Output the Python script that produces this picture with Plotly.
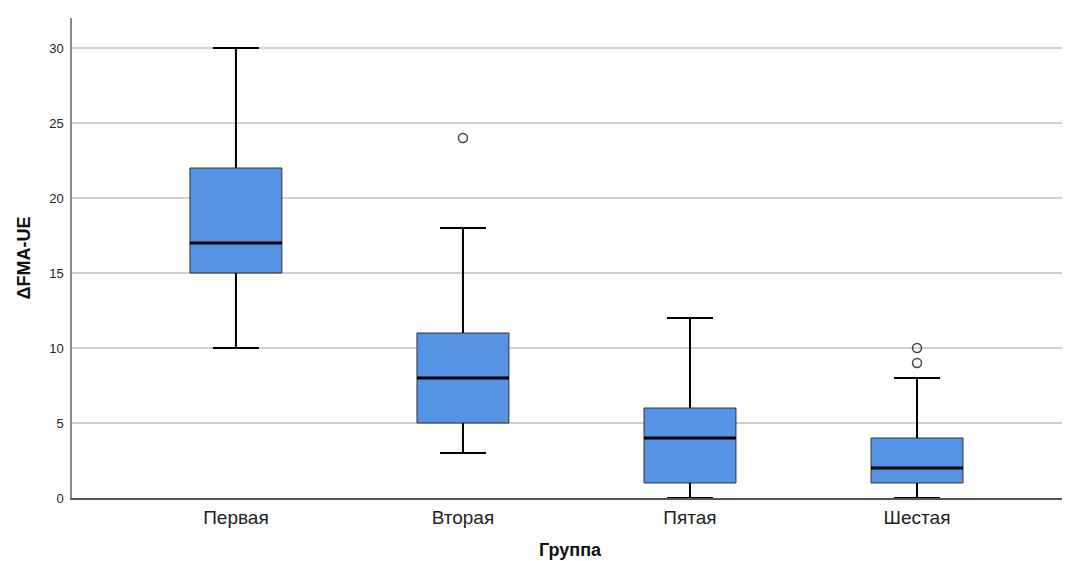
import plotly.graph_objects as go

groups = ["Первая", "Вторая", "Пятая", "Шестая"]
q1 = [15, 5, 1, 1]
median = [17, 8, 4, 2]
q3 = [22, 11, 6, 4]
lower = [10, 3, 0, 0]
upper = [30, 18, 12, 8]
outlier_group = [1, 3, 3]
outlier_value = [24, 9, 10]
yticks = [0, 5, 10, 15, 20, 25, 30]

BOX_W = 0.405
CAP_W = BOX_W / 2
pos = list(range(len(groups)))

fig = go.Figure()
fig.add_trace(go.Box(
    x=pos, q1=q1, median=median, q3=q3, lowerfence=lower, upperfence=upper,
    width=BOX_W, whiskerwidth=0.5,
    fillcolor="#5593E5", line=dict(color="#333333", width=1),
    boxpoints=False, showlegend=False, hoverinfo="skip",
))

# whiskers (thicker, black)
wx, wy = [], []
for i in pos:
    wx += [i, i, None, i, i, None]
    wy += [q3[i], upper[i], None, q1[i], lower[i], None]
    wx += [i - CAP_W / 2, i + CAP_W / 2, None, i - CAP_W / 2, i + CAP_W / 2, None]
    wy += [upper[i], upper[i], None, lower[i], lower[i], None]
fig.add_trace(go.Scatter(x=wx, y=wy, mode="lines", line=dict(color="black", width=2),
                         showlegend=False, hoverinfo="skip"))

# medians
mx, my = [], []
for i in pos:
    mx += [i - BOX_W / 2, i + BOX_W / 2, None]
    my += [median[i], median[i], None]
fig.add_trace(go.Scatter(x=mx, y=my, mode="lines", line=dict(color="black", width=3),
                         showlegend=False, hoverinfo="skip"))

fig.add_trace(go.Scatter(
    x=outlier_group, y=outlier_value, mode="markers",
    marker=dict(symbol="circle-open", size=9, color="#444444", line=dict(width=1.5)),
    showlegend=False, hoverinfo="skip",
))

fig.update_layout(
    width=1062, height=553,
    margin=dict(l=64, r=2, t=10, b=63),
    paper_bgcolor="white", plot_bgcolor="white",
    font=dict(family="Liberation Sans, Arial, sans-serif", color="#222222"),
)
fig.update_xaxes(
    range=[-0.722, 3.665], tickvals=pos, ticktext=groups,
    showgrid=False, zeroline=False, showline=True, linecolor="#555555", linewidth=1.5,
    ticks="", tickfont=dict(size=19, color="#222222"), ticklabelstandoff=1,
    title=dict(text="<b>Группа</b>", font=dict(size=18, color="#111111"), standoff=17),
)
fig.update_yaxes(
    range=[0, 32], tickvals=yticks,
    showgrid=True, gridcolor="#D0D0D0", gridwidth=1.5,
    zeroline=False, showline=True, linecolor="#888888", linewidth=1.5,
    ticks="", tickfont=dict(size=13, color="#222222"), ticklabelstandoff=4,
    title=dict(text="<b>ΔFMA-UE</b>", font=dict(size=18, color="#111111"), standoff=14),
)

fig.write_html("out.html")
